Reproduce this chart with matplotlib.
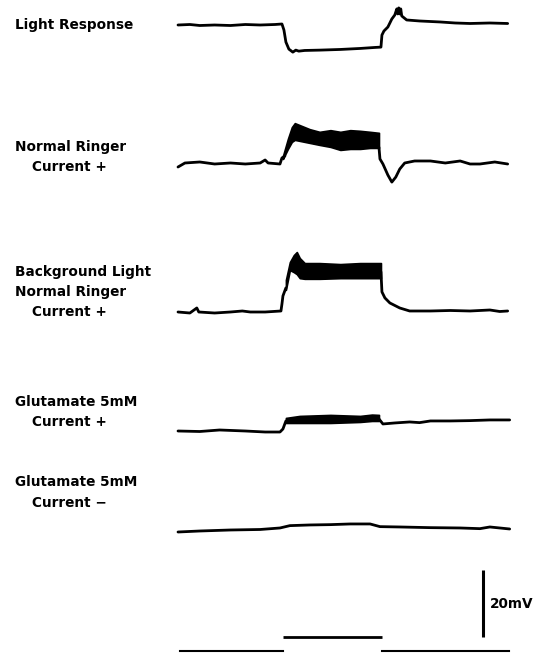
#Intracellular recordings: light response and current injection
#traces redrawn from a scanned figure

import numpy as np
import matplotlib
matplotlib.use('Agg')
import matplotlib.pyplot as plt

#---- data (time in s, light on at 1.06 s ; voltage in mV re baseline) ----
t_light = [0.00, 0.12, 0.22, 0.37, 0.53, 0.68, 0.83, 0.98, 1.05, 1.07, 1.09, 1.12, 1.16, 1.19,
           1.22, 1.28, 1.43, 1.64, 1.84, 1.99, 2.05, 2.06, 2.08, 2.12, 2.16, 2.19, 2.21, 2.22,
           2.23, 2.24, 2.25, 2.26, 2.31, 2.44, 2.65, 2.80, 2.95, 3.15, 3.33]
v_light = [0.0, 0.15, -0.15, 0.0, -0.15, 0.15, 0.0, 0.15, 0.3, -1.5, -5.1, -7.2, -8.1, -7.5,
           -7.8, -7.6, -7.5, -7.3, -7.0, -6.7, -6.6, -3.0, -1.8, -0.6, 1.8, 3.0, 4.8, 3.3,
           5.1, 3.3, 4.8, 2.7, 1.5, 1.2, 0.9, 0.6, 0.45, 0.6, 0.45]

#normal ringer, current +
t_nr = [0.00, 0.07, 0.22, 0.37, 0.53, 0.68, 0.83, 0.88, 0.91, 1.03, 1.05, 1.08,
        None,
        2.03, 2.04, 2.07, 2.12, 2.16, 2.20, 2.24, 2.29, 2.39, 2.55, 2.70, 2.85, 2.95, 3.05,
        3.20, 3.33]
v_nr = [-0.9, 0.3, 0.6, 0.0, 0.3, 0.0, 0.3, 1.2, 0.3, 0.0, 1.8, 2.4,
        None,
        5.0, 1.5, 0.0, -3.3, -5.4, -3.9, -1.5, 0.3, 0.9, 0.9, 0.3, 0.9, 0.0, 0.0,
        0.6, 0.0]
t_nr_band = [1.06, 1.11, 1.15, 1.18, 1.23, 1.33, 1.43, 1.54, 1.64, 1.74, 1.84, 1.94, 2.03]
top_nr = [2.4, 7.5, 11.0, 12.2, 11.6, 10.4, 9.6, 10.1, 9.6, 10.1, 9.9, 9.6, 9.3]
bot_nr = [1.5, 4.5, 6.6, 7.2, 6.9, 6.3, 5.7, 5.1, 4.2, 4.5, 4.5, 4.8, 4.8]

#background light, normal ringer, current +
t_bg = [0.00, 0.12, 0.19, 0.21, 0.37, 0.53, 0.65, 0.73, 0.88, 1.04, 1.05, 1.06, 1.09,
        None,
        2.05, 2.06, 2.09, 2.14, 2.24, 2.34, 2.55, 2.75, 2.95, 3.15, 3.25, 3.33]
v_bg = [0.0, -0.3, 1.2, 0.0, -0.3, 0.0, 0.3, 0.0, 0.0, 0.3, 2.4, 4.8, 7.2,
        None,
        12.0, 6.0, 4.2, 2.7, 1.2, 0.3, 0.3, 0.45, 0.3, 0.6, 0.15, 0.3]
t_bg_band = [1.09, 1.13, 1.17, 1.20, 1.23, 1.28, 1.43, 1.64, 1.84, 2.05]
top_bg = [9.6, 14.9, 17.0, 17.9, 16.1, 14.6, 14.6, 14.3, 14.6, 14.6]
bot_bg = [6.6, 12.5, 11.9, 11.3, 10.1, 9.9, 9.9, 10.1, 10.1, 10.1]

#glutamate 5mM, current +
t_gp = [0.00, 0.22, 0.42, 0.68, 0.88, 1.03, 1.06, 1.09,
        None,
        2.03, 2.07, 2.19, 2.34, 2.44, 2.55, 2.75, 2.95, 3.15, 3.35]
v_gp = [0.0, -0.15, 0.3, 0.0, -0.3, -0.3, 0.6, 3.0,
        None,
        3.6, 2.1, 2.4, 2.7, 2.5, 3.0, 3.0, 3.1, 3.3, 3.3]
t_gp_band = [1.09, 1.23, 1.54, 1.84, 1.96, 2.03]
top_gp = [3.9, 4.5, 4.8, 4.5, 4.9, 4.8]
bot_gp = [2.4, 2.4, 2.4, 2.7, 3.0, 3.0]

#glutamate 5mM, current -
t_gm = [0.00, 0.22, 0.53, 0.83, 1.03, 1.13, 1.33, 1.54, 1.74, 1.94, 2.04, 2.24, 2.55, 2.85,
        3.05, 3.15, 3.35]
v_gm = [0.0, 0.3, 0.6, 0.75, 1.2, 1.9, 2.1, 2.2, 2.4, 2.4, 1.6, 1.5, 1.3, 1.2,
        1.0, 1.5, 0.9]

labels = [["Light Response"],
          ["Normal Ringer", "Current +"],
          ["Background Light", "Normal Ringer", "Current +"],
          ["Glutamate 5mM", "Current +"],
          ["Glutamate 5mM", "Current \u2212"]]
light_on, light_off = 1.06, 2.06
scale_mv = 20

#---- layout (pixels of the 545x653 picture) ----
W, H = 545, 653
px_s = 99.0      #pixels per second
px_mv = 3.35     #pixels per mV
x0 = 178         #pixel of t=0
base_px = [25, 164, 312, 431, 532]
label_px = [[25], [147, 167], [272, 292, 312], [402, 422], [482, 503]]
fs = 9.8

fig = plt.figure(figsize=(W/100, H/100), dpi=100)
ax = fig.add_axes([0, 0, 1, 1])
ax.set_xlim(-x0/px_s, (W-x0)/px_s)
ax.set_ylim(-H/px_mv, 0)
ax.axis('off')

def seg(t, v):
    #split a list at None into pieces
    out, ct, cv = [], [], []
    for a, b in zip(t, v):
        if a is None:
            out.append((ct, cv)); ct, cv = [], []
        else:
            ct.append(a); cv.append(b)
    out.append((ct, cv))
    return out

traces = [(t_light, v_light, None), (t_nr, v_nr, (t_nr_band, top_nr, bot_nr)),
          (t_bg, v_bg, (t_bg_band, top_bg, bot_bg)), (t_gp, v_gp, (t_gp_band, top_gp, bot_gp)),
          (t_gm, v_gm, None)]
lw = 2.0
for k, (t, v, band) in enumerate(traces):
    off = -base_px[k]/px_mv
    for ct, cv in seg(t, v):
        ax.plot(ct, np.array(cv)+off, color='black', lw=lw, solid_capstyle='round',
                solid_joinstyle='round')
    if band is not None:
        bt, btop, bbot = band
        ax.fill_between(bt, np.array(btop)+off, np.array(bbot)+off, color='black', lw=1.2,
                        edgecolor='black')

#labels
for k, lines in enumerate(labels):
    for j, s in enumerate(lines):
        xl = 32 if s.startswith("Current") else 15
        fig.text(xl/W, 1-label_px[k][j]/H, s, fontsize=fs, fontweight='bold',
                 ha='left', va='center', family='DejaVu Sans')

#scale bar, light marker and stimulus trace
sb_t = (483-x0)/px_s
sb_bot = -637/px_mv
ax.plot([sb_t, sb_t], [sb_bot, sb_bot+scale_mv], color='black', lw=2.2, solid_capstyle='butt')
ax.text(sb_t+0.07, sb_bot+scale_mv/2, "%dmV" % scale_mv, fontsize=fs, fontweight='bold',
        ha='left', va='center')
ax.plot([light_on, light_off], [sb_bot, sb_bot], color='black', lw=2.0, solid_capstyle='butt')
stim_y = -651/px_mv
ax.plot([0.02, light_on], [stim_y, stim_y], color='black', lw=1.5)
ax.plot([light_off, 3.34], [stim_y, stim_y], color='black', lw=1.5)

plt.savefig('out.png', dpi=100)
